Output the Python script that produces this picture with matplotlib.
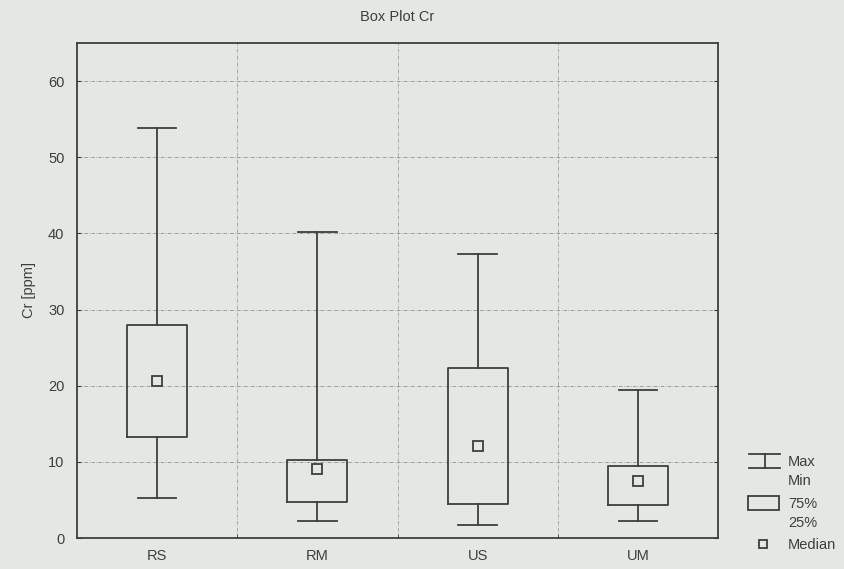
import matplotlib
matplotlib.use("Agg")
import matplotlib.pyplot as plt
from matplotlib.lines import Line2D
from matplotlib.patches import Rectangle

# Box plot statistics for Cr [ppm]
groups = ["RS", "RM", "US", "UM"]
mins = [5.3, 2.2, 1.7, 2.2]
q1s = [13.2, 4.7, 4.5, 4.3]
medians = [20.6, 9.0, 12.1, 7.5]
q3s = [28.0, 10.3, 22.3, 9.4]
maxs = [53.8, 40.2, 37.3, 19.4]

bg = "#e3e8e2"
ink = "#3b403b"

plt.rcParams["font.family"] = ["Liberation Sans", "DejaVu Sans"]

fig = plt.figure(figsize=(8.44, 5.69), dpi=100, facecolor=bg)
ax = fig.add_axes([77 / 844, 1 - 538 / 569, 641 / 844, 495 / 569])
ax.set_facecolor(bg)

stats = []
for g, lo, a, m, b, hi in zip(groups, mins, q1s, medians, q3s, maxs):
    stats.append(dict(label=g, whislo=lo, q1=a, med=m, q3=b, whishi=hi, fliers=[]))

pos = list(range(len(groups)))
ax.bxp(stats, positions=pos, widths=0.375, showfliers=False,
       boxprops=dict(color=ink, linewidth=1.3),
       whiskerprops=dict(color=ink, linewidth=1.3),
       capprops=dict(color=ink, linewidth=1.3),
       medianprops=dict(linewidth=0),
       capwidths=0.24)
ax.plot(pos, medians, linestyle="none", marker="s", markersize=6.5,
        markerfacecolor="none", markeredgecolor=ink, markeredgewidth=1.3)

ax.set_xlim(-0.5, len(groups) - 0.5)
ax.set_ylim(0, 65)
ax.set_yticks([0, 10, 20, 30, 40, 50, 60])
ax.set_xticks(pos)
ax.set_xticklabels(groups)
ax.set_xticks([0.5, 1.5, 2.5], minor=True)

ax.yaxis.grid(True, color="#7c807c", linestyle=(0, (5, 2, 1, 2)), linewidth=0.5)
ax.xaxis.grid(True, which="minor", color="#8a8e8a", linestyle=(0, (5, 2, 1, 2)), linewidth=0.5)
ax.set_axisbelow(True)

ax.tick_params(axis="x", which="major", length=0, pad=8, labelsize=10.5, colors=ink)
ax.tick_params(axis="x", which="minor", direction="in", length=3, color=ink)
ax.tick_params(axis="y", direction="in", length=3, right=True, labelsize=10.5,
               colors=ink, pad=9)
for s in ax.spines.values():
    s.set_color(ink)
    s.set_linewidth(1.3)

ax.set_ylabel("Cr [ppm]", fontsize=10.5, color=ink, labelpad=9)
ax.set_title("Box Plot Cr", fontsize=10.5, color=ink, pad=16)

# legend drawn at the right, outside the axes
def fx(x):
    return x / 844

def fy(y):
    return 1 - y / 569

fig.add_artist(Line2D([fx(749), fx(780)], [fy(454), fy(454)], color=ink, lw=1.3))
fig.add_artist(Line2D([fx(749), fx(780)], [fy(468), fy(468)], color=ink, lw=1.3))
fig.add_artist(Line2D([fx(764.5), fx(764.5)], [fy(454), fy(468)], color=ink, lw=1.3))
fig.add_artist(Rectangle((fx(748), fy(510)), fx(31), 14 / 569, fill=False,
                         edgecolor=ink, lw=1.3))
fig.add_artist(Line2D([fx(763)], [fy(544)], marker="s", markersize=5.5,
                      markerfacecolor="none", markeredgecolor=ink, markeredgewidth=1.3))
for txt, y in [("Max", 462), ("Min", 481), ("75%", 504), ("25%", 523), ("Median", 545)]:
    fig.text(fx(788), fy(y), txt, fontsize=10.5, color=ink, va="center", ha="left")

fig.savefig("out.png", dpi=100, facecolor=bg)
